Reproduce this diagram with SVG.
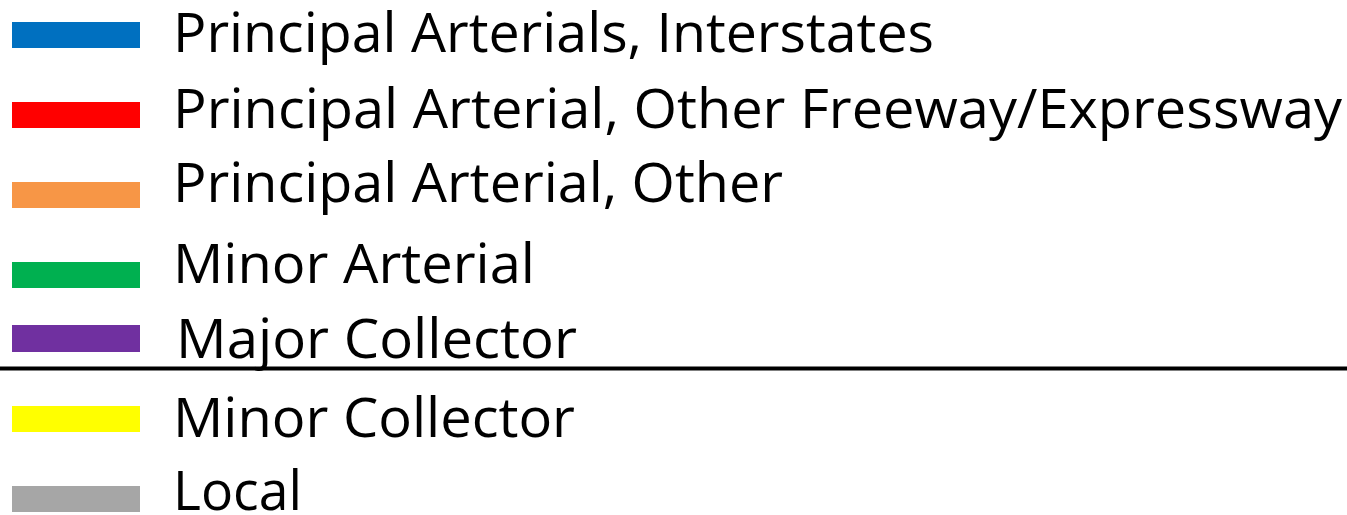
<svg xmlns="http://www.w3.org/2000/svg" width="1347" height="515" viewBox="0 0 1347 515">
<style>
text{font-family:"Open Sans","Noto Sans","Liberation Sans",sans-serif;font-size:55px;fill:#000}
.sw{stroke:none}
</style>
<rect width="1347" height="515" fill="#fff"/>
<g id="item-interstates"><rect class="sw" x="12" y="22" width="128" height="26" fill="#0070C0"/><text x="173" y="52" textLength="761" lengthAdjust="spacingAndGlyphs">Principal Arterials, Interstates</text></g>
<g id="item-freeway"><rect class="sw" x="12" y="102" width="128" height="26" fill="#FF0000"/><text x="173" y="128" textLength="1169" lengthAdjust="spacingAndGlyphs">Principal Arterial, Other Freeway/Expressway</text></g>
<g id="item-pa-other"><rect class="sw" x="12" y="182" width="128" height="26" fill="#F79646"/><text x="173" y="202" textLength="610" lengthAdjust="spacingAndGlyphs">Principal Arterial, Other</text></g>
<g id="item-minor-arterial"><rect class="sw" x="12" y="262" width="128" height="26" fill="#00B050"/><text x="173" y="283" textLength="362" lengthAdjust="spacingAndGlyphs">Minor Arterial</text></g>
<g id="item-major-collector"><rect class="sw" x="12" y="325" width="128" height="27" fill="#7030A0"/><text x="176" y="358" textLength="401" lengthAdjust="spacingAndGlyphs">Major Collector</text></g>
<g id="connectors"><line x1="0" y1="368.5" x2="1347" y2="368.5" stroke="#000" stroke-width="4"/></g>
<g id="item-minor-collector"><rect class="sw" x="12" y="406" width="128" height="26" fill="#FFFF00"/><text x="173" y="437" textLength="402" lengthAdjust="spacingAndGlyphs">Minor Collector</text></g>
<g id="item-local"><rect class="sw" x="12" y="486" width="128" height="26" fill="#A6A6A6"/><text x="173" y="510" textLength="129" lengthAdjust="spacingAndGlyphs">Local</text></g>
</svg>
